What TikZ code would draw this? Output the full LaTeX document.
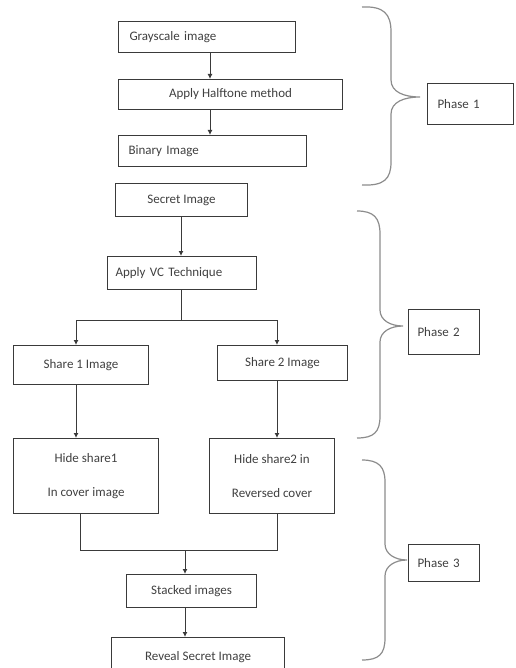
\documentclass[tikz,border=0pt]{standalone}
\usepackage{fontspec}
\setmainfont{Carlito}
\usetikzlibrary{arrows.meta}
\definecolor{linec}{HTML}{3A3A3A}
\definecolor{txtc}{HTML}{404040}
\definecolor{bracec}{HTML}{8C8C8C}
\begin{document}
\begin{tikzpicture}[x=1pt,y=-1pt,
  box/.style={draw=linec, line width=1pt, text=txtc, font=\fontsize{13}{15}\selectfont,
    anchor=north west, inner sep=0pt, align=center},
  lbox/.style={box, align=left},
  conn/.style={draw=linec, line width=1pt},
  arr/.style={conn, -{Latex[length=5pt,width=5pt]}},
  brace/.style={draw=bracec, line width=1.2pt}]
\useasboundingbox (0,0) rectangle (515,668);
\clip (0,0) rectangle (515,668);

% Phase 1 column
\node[lbox, minimum width=177pt, minimum height=31pt, inner xsep=11pt, text width=155pt] (gray) at (118,21) {Grayscale image};
\node[box, minimum width=224pt, minimum height=30pt] (half) at (118,79) {Apply Halftone method};
\node[lbox, minimum width=188pt, minimum height=31pt, inner xsep=10pt, text width=168pt] (bin) at (118,135) {Binary Image};

% Phase 2
\node[box, minimum width=132pt, minimum height=33pt] (sec) at (115,183) {Secret Image};
\node[lbox, minimum width=149pt, minimum height=33pt, inner xsep=8pt, text width=133pt] (vc) at (107,256) {Apply VC Technique};
\node[box, minimum width=135pt, minimum height=39pt] (s1) at (13,345) {Share 1 Image};
\node[box, minimum width=130pt, minimum height=35pt] (s2) at (217,345) {Share 2 Image};

% Phase 3
\node[box, minimum width=145pt, minimum height=75pt] (h1) at (13,438) {Hide share1\\[19pt]In cover image};
\node[box, minimum width=125pt, minimum height=75pt] (h2) at (209,438) {Hide share2 in\\[19pt]Reversed cover};
\node[box, minimum width=130pt, minimum height=33pt] (st) at (126,574) {Stacked images};
\node[box, minimum width=173pt, minimum height=40pt, anchor=north west] (rev) at (111,637) {\raisebox{4pt}{Reveal Secret Image}};

% phase labels
\node[lbox, minimum width=86pt, minimum height=41pt, inner xsep=10pt, text width=66pt] (p1) at (427,83) {Phase 1};
\node[lbox, minimum width=71pt, minimum height=45pt, inner xsep=9pt, text width=53pt] (p2) at (408,309) {Phase 2};
\node[lbox, minimum width=71pt, minimum height=37pt, inner xsep=9pt, text width=53pt] (p3) at (408,544) {Phase 3};

% helper coordinates
\coordinate (x210) at (210,0);
\coordinate (x181) at (181,0);
\coordinate (x76) at (76,0);
\coordinate (x277) at (277,0);
\coordinate (x80) at (80,0);
\coordinate (x185) at (185,0);
\coordinate (ysplit) at (0,320);
\coordinate (ymerge) at (0,550);

% connectors
\draw[arr] (x210 |- gray.south) -- (x210 |- half.north);
\draw[arr] (x210 |- half.south) -- (x210 |- bin.north);
\draw[arr] (x181 |- sec.south) -- (x181 |- vc.north);
\draw[conn] (x181 |- vc.south) -- (x181 |- ysplit);
\draw[arr] (x181 |- ysplit) -| (x76 |- s1.north);
\draw[arr] (x181 |- ysplit) -| (x277 |- s2.north);
\draw[arr] (x76 |- s1.south) -- (x76 |- h1.north);
\draw[arr] (x277 |- s2.south) -- (x277 |- h2.north);
\draw[conn] (x80 |- h1.south) |- (x277 |- ymerge) -- (x277 |- h2.south);
\draw[arr] (x185 |- ymerge) -- (x185 |- st.north);
\draw[arr] (x185 |- st.south) -- (x185 |- rev.north);

% braces
\coordinate (t1) at (420,97);
\coordinate (t2) at (403,326);
\coordinate (t3) at (407,560);
\draw[brace] (362,7) .. controls (384,6) and (391,14) .. (391,32) -- (391,80)
  .. controls (391,92) and (404,97) .. (t1)
  .. controls (404,97) and (391,102) .. (391,114) -- (391,162)
  .. controls (391,179) and (384,186) .. (362,185);
\draw[brace] (357,211) .. controls (374,211) and (380,218) .. (380,234) -- (380,310)
  .. controls (380,320) and (390,326) .. (t2)
  .. controls (390,326) and (380,332) .. (380,342) -- (380,416)
  .. controls (380,432) and (374,438) .. (357,438);
\draw[brace] (362,460) .. controls (379,460) and (385,467) .. (385,482) -- (385,544)
  .. controls (385,554) and (395,560) .. (t3)
  .. controls (395,560) and (385,566) .. (385,576) -- (385,638)
  .. controls (385,654) and (379,660) .. (362,660);
\end{tikzpicture}
\end{document}
